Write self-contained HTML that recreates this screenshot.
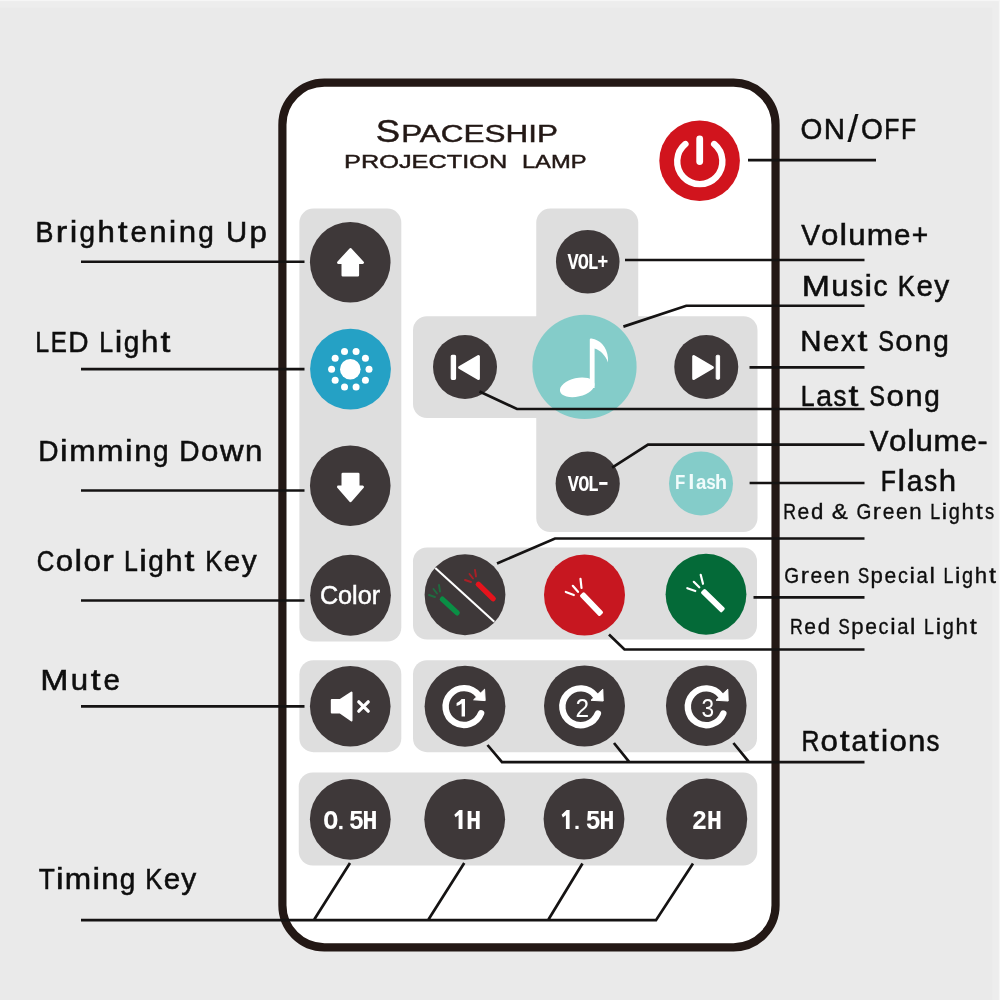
<!DOCTYPE html>
<html>
<head>
<meta charset="utf-8">
<title>Spaceship Projection Lamp Remote</title>
<style>
html,body{margin:0;padding:0;background:#eaeaea;}
body{width:1000px;height:1000px;overflow:hidden;font-family:"Liberation Sans",sans-serif;}
svg{display:block;position:absolute;left:0;top:0;will-change:transform;}
text{font-family:"Liberation Sans",sans-serif;}
.lbl{font-size:30.3px;fill:#0e0e0e;stroke:#0e0e0e;stroke-width:0.55px;}
.sm{font-size:21.6px;fill:#0e0e0e;stroke:#0e0e0e;stroke-width:0.35px;}
.ln{stroke:#151313;stroke-width:2.7;fill:none;stroke-linejoin:miter;}
.pan{fill:#dedede;}
.btn{fill:#3e3839;}
.mono{font-family:"Liberation Mono",monospace;font-weight:bold;fill:#fff;}
.hd{fill:#231815;stroke:#231815;stroke-width:0.45px;}
.sb{font-family:"Liberation Sans",sans-serif;font-weight:bold;}
</style>
</head>
<body>
<svg width="1000" height="1000" viewBox="0 0 1000 1000">
<!-- background -->
<rect x="0" y="0" width="1000" height="1000" fill="#eaeaea"/>
<rect x="992.5" y="0" width="7.5" height="1000" fill="#ededed"/>
<rect x="0" y="0" width="1000" height="7.5" fill="#ededed"/>
<rect x="998.8" y="0" width="1.2" height="1000" fill="#f6f6f6"/>
<rect x="0" y="0" width="1000" height="1.2" fill="#f6f6f6"/>

<!-- remote body -->
<rect x="282.4" y="82.7" width="493.15" height="864.6" rx="42" ry="42" fill="#ffffff" stroke="#231815" stroke-width="8.2"/>

<g class="hd">
<text x="375.7" y="141.6" font-size="31.6" textLength="24.4" lengthAdjust="spacingAndGlyphs" >S</text>
<text x="401.15" y="141.6" font-size="24.2" textLength="156.8" lengthAdjust="spacingAndGlyphs" >PACESHIP</text>
<text x="344.1" y="167.8" font-size="18.8" textLength="163.1" lengthAdjust="spacingAndGlyphs" >PROJECTION</text>
<text x="521.9" y="167.8" font-size="18.8" textLength="64.6" lengthAdjust="spacingAndGlyphs" >LAMP</text>
</g>

<!-- grey panels -->
<g class="pan">
<rect x="299.4" y="208.6" width="101.9" height="433" rx="14"/>
<path d="M550.25 208.6H624.25a14 14 0 0 1 14 14V316.25H743.5a14 14 0 0 1 14 14V518a14 14 0 0 1 -14 14H550.25a14 14 0 0 1 -14 -14V418H427a14 14 0 0 1 -14 -14V330.25a14 14 0 0 1 14 -14H536.25V222.6a14 14 0 0 1 14 -14Z"/>
<rect x="413" y="547.5" width="344" height="92" rx="14"/>
<rect x="299.4" y="660.2" width="101.9" height="92" rx="14"/>
<rect x="413" y="660.2" width="344" height="92" rx="14"/>
<rect x="298.75" y="772.5" width="458.5" height="93" rx="14"/>
</g>

<!-- buttons -->
<g class="btn">
<circle cx="350.25" cy="262.25" r="40.3"/>
<circle cx="350.25" cy="485.75" r="40.3"/>
<circle cx="350.5" cy="595.25" r="40.4"/>
<circle cx="350.25" cy="706.25" r="40.3"/>
<circle cx="587.75" cy="261.75" r="31.8"/>
<circle cx="465" cy="367" r="32"/>
<circle cx="706.25" cy="367" r="32"/>
<circle cx="587.7" cy="483.7" r="32.1"/>
<circle cx="465" cy="594.75" r="40.4"/>
<circle cx="465" cy="706.25" r="40.4"/>
<circle cx="584.5" cy="706" r="40.5"/>
<circle cx="706.25" cy="705.75" r="40.3"/>
<circle cx="350.3" cy="819.3" r="40.4"/>
<circle cx="464.7" cy="819.3" r="40.4"/>
<circle cx="584" cy="819" r="40.4"/>
<circle cx="706.7" cy="819" r="40.5"/>
</g>
<circle cx="350.5" cy="369.1" r="40.4" fill="#25a1c5"/>
<circle cx="699.6" cy="160.75" r="40.3" fill="#d1141d"/>
<circle cx="584.5" cy="366.8" r="52.1" fill="#84ccc9"/>
<circle cx="701" cy="483.4" r="32" fill="#84ccc9"/>
<circle cx="584.5" cy="595" r="40.5" fill="#c71720"/>
<circle cx="706" cy="594.25" r="40.4" fill="#046a38"/>

<!-- icons -->
<path d="M350.5 249.3L362.7 262.6H357.8V275.2H342.8V262.6H338.3Z" fill="#fff" stroke="#fff" stroke-width="2.6" stroke-linejoin="round"/>
<path d="M350.5 500.8L362.7 486.9H358.2V474.1H342.8V486.9H338.3Z" fill="#fff" stroke="#fff" stroke-width="2.6" stroke-linejoin="round"/>
<g fill="#fff"><circle cx="350.3" cy="369.2" r="10.3"/><circle cx="369.00" cy="369.20" r="3.5"/><circle cx="365.43" cy="380.19" r="3.5"/><circle cx="356.08" cy="386.98" r="3.5"/><circle cx="344.52" cy="386.98" r="3.5"/><circle cx="335.17" cy="380.19" r="3.5"/><circle cx="331.60" cy="369.20" r="3.5"/><circle cx="335.17" cy="358.21" r="3.5"/><circle cx="344.52" cy="351.42" r="3.5"/><circle cx="356.08" cy="351.42" r="3.5"/><circle cx="365.43" cy="358.21" r="3.5"/></g>
<path d="M714.18 144.06A22.6 22.6 0 1 1 685.42 144.06" fill="none" stroke="#fff" stroke-width="6.4" stroke-linecap="round"/>
<path d="M699.7 138.8V161.5" fill="none" stroke="#fff" stroke-width="6.8" stroke-linecap="round"/>
<g fill="#fff"><ellipse cx="577.2" cy="387.3" rx="17.6" ry="9.3" transform="rotate(-13 577.2 387.3)"/><path d="M589.8 339.6Q589.8 338.2 591.4 338.5L594.6 339.2C602 341.5 609 350 608 362.5C605.5 355.5 600.5 350.3 594.6 348.6V388H589.8Z"/></g>
<g fill="#fff" stroke="#fff" stroke-linejoin="round"><path d="M459.6 367.5L478.4 356.6V378.4Z" stroke-width="3"/><rect x="451.3" y="355.3" width="4.2" height="24" rx="1" stroke-width="1.2"/></g>
<g fill="#fff" stroke="#fff" stroke-linejoin="round"><path d="M712.4 367.5L693.7 356.6V378.4Z" stroke-width="3"/><rect x="716.2" y="355.3" width="3.4" height="24" rx="1" stroke-width="1"/></g>
<g fill="#fff" stroke="#fff" stroke-linejoin="round"><path d="M331.8 700H340L351.5 692.6V720.4L340 712.5H331.8Z" stroke-width="2"/><path d="M358.8 701.8L368.2 711.2M368.2 701.8L358.8 711.2" stroke-width="3.3" stroke-linecap="round" fill="none"/></g>
<path d="M435.3 568L494.3 621.8" stroke="#fff" stroke-width="2.1" fill="none"/>
<rect x="0" y="-2.7" width="25.81" height="5.4" rx="2.4" fill="#e5131c" transform="translate(476.5 582.5) rotate(44.22)"/><path d="M475 570L476 576.5" stroke="#e5131c" stroke-width="1.9" stroke-linecap="round" fill="none" opacity="0.65"/><path d="M469.5 574L473 578.5" stroke="#e5131c" stroke-width="1.9" stroke-linecap="round" fill="none" opacity="0.65"/><path d="M465 580L471 582" stroke="#e5131c" stroke-width="1.9" stroke-linecap="round" fill="none" opacity="0.65"/>
<rect x="0" y="-2.7" width="25.12" height="5.4" rx="2.4" fill="#0a8f45" transform="translate(440.5 597.5) rotate(42.58)"/><path d="M439 585L440 591.5" stroke="#0a8f45" stroke-width="1.9" stroke-linecap="round" fill="none" opacity="0.6"/><path d="M433.5 589L437 593.5" stroke="#0a8f45" stroke-width="1.9" stroke-linecap="round" fill="none" opacity="0.6"/><path d="M429 595L435 597" stroke="#0a8f45" stroke-width="1.9" stroke-linecap="round" fill="none" opacity="0.6"/>
<rect x="0" y="-3.0" width="28.86" height="6" rx="1.6" fill="#fff" transform="translate(581.5 593.7) rotate(46.12)"/><path d="M565.8 592L573.8 595" stroke="#fff" stroke-width="2.2" stroke-linecap="round" fill="none" opacity="1"/><path d="M572.8 585.8L578 591.8" stroke="#fff" stroke-width="2.2" stroke-linecap="round" fill="none" opacity="1"/><path d="M580.5 578.8L581.5 588" stroke="#fff" stroke-width="2.2" stroke-linecap="round" fill="none" opacity="1"/>
<rect x="0" y="-3.0" width="29.06" height="6" rx="1.6" fill="#fff" transform="translate(702.5 590.5) rotate(44.30)"/><path d="M687.3 588.2L695.3 591" stroke="#fff" stroke-width="2.2" stroke-linecap="round" fill="none" opacity="1"/><path d="M693.8 581.8L699.3 587.3" stroke="#fff" stroke-width="2.2" stroke-linecap="round" fill="none" opacity="1"/><path d="M700.7 574.8L703 583.8" stroke="#fff" stroke-width="2.2" stroke-linecap="round" fill="none" opacity="1"/>
<path d="M481.11 713.26A18.4 18.4 0 1 1 478.41 695.05" fill="none" stroke="#fff" stroke-width="6.4" stroke-linecap="round"/><path d="M484.6 689.2L485.2 700.6L473.6 699.8Z" fill="#fff" stroke="#fff" stroke-width="1" stroke-linejoin="round"/><path d="M461.6 699H465V716.6H461.6V703.4Q459.6 705 456.6 705.9V703Q460 701.6 461.6 699Z" fill="#fff"/>
<path d="M597.88 713.47A18.4 18.4 0 1 1 595.52 695.78" fill="none" stroke="#fff" stroke-width="6.4" stroke-linecap="round"/><path d="M602.8 689.2L603.2 701L591 700.3Z" fill="#fff" stroke="#fff" stroke-width="1" stroke-linejoin="round"/><text x="582.2" y="716.9" font-size="25" fill="#fff" text-anchor="middle" textLength="13.6" lengthAdjust="spacingAndGlyphs">2</text>
<path d="M723.33 713.46A18.4 18.4 0 1 1 720.82 695.58" fill="none" stroke="#fff" stroke-width="6.4" stroke-linecap="round"/><path d="M727.8 689.2L728.2 701L716 700.3Z" fill="#fff" stroke="#fff" stroke-width="1" stroke-linejoin="round"/><text x="707.8" y="716.9" font-size="25" fill="#fff" text-anchor="middle" textLength="12.6" lengthAdjust="spacingAndGlyphs">3</text>
<text x="350" y="604" font-size="26" fill="#fff" stroke="#fff" stroke-width="0.5" text-anchor="middle" textLength="60.2" lengthAdjust="spacingAndGlyphs">Color</text>
<text class="mono" transform="translate(573,269.1) scale(0.82,1)" text-anchor="middle" font-size="22.6" fill="#fff">V</text>
<text class="mono" transform="translate(583.4,269.1) scale(0.82,1)" text-anchor="middle" font-size="22.6" fill="#fff">O</text>
<text class="mono" transform="translate(593,269.1) scale(0.82,1)" text-anchor="middle" font-size="22.6" fill="#fff">L</text>
<text class="mono" transform="translate(602.9,269.1) scale(0.82,1)" text-anchor="middle" font-size="22.6" fill="#fff">+</text>
<text class="mono" transform="translate(573.4,490.7) scale(0.82,1)" text-anchor="middle" font-size="22.6" fill="#fff">V</text>
<text class="mono" transform="translate(583.8,490.7) scale(0.82,1)" text-anchor="middle" font-size="22.6" fill="#fff">O</text>
<text class="mono" transform="translate(593.4,490.7) scale(0.82,1)" text-anchor="middle" font-size="22.6" fill="#fff">L</text>
<rect x="599.2" y="482" width="8.3" height="2.9" fill="#fff"/>
<text class="sb" transform="translate(680.1,488.7) scale(0.84,1)" text-anchor="middle" font-size="20.1" fill="#f0fbfb">F</text>
<text class="sb" transform="translate(691.25,488.7) scale(1.1,1)" text-anchor="middle" font-size="20.1" fill="#f0fbfb">l</text>
<text class="sb" transform="translate(701.1,488.7) scale(0.93,1)" text-anchor="middle" font-size="20.1" fill="#f0fbfb">a</text>
<text class="sb" transform="translate(711.05,488.7) scale(0.85,1)" text-anchor="middle" font-size="20.1" fill="#f0fbfb">s</text>
<text class="sb" transform="translate(721,488.7) scale(0.98,1)" text-anchor="middle" font-size="20.1" fill="#f0fbfb">h</text>
<text class="mono" transform="translate(330.7,829.2) scale(0.88,1)" text-anchor="middle" font-size="28.4" fill="#fff">O</text>
<rect x="339.2" y="825.90" width="3.30" height="3.30" fill="#fff"/>
<text class="mono" transform="translate(356.3,829.2) scale(0.9,1)" text-anchor="middle" font-size="28.4" fill="#fff">5</text>
<text class="mono" transform="translate(370,829.2) scale(0.9,1)" text-anchor="middle" font-size="28.4" fill="#fff">H</text>
<path d="M459.30 810H462.5V828.9H458.6V815.10L455.60 817.30L454.30 814.70Z" fill="#fff"/>
<text class="mono" transform="translate(473.75,829) scale(0.9,1)" text-anchor="middle" font-size="28.4" fill="#fff">H</text>
<path d="M566.60 810.1H569.6V829H565.9V815.20L562.90 817.40L561.60 814.80Z" fill="#fff"/>
<rect x="575.4" y="825.80" width="3.20" height="3.20" fill="#fff"/>
<text class="mono" transform="translate(593.25,829) scale(0.9,1)" text-anchor="middle" font-size="28.4" fill="#fff">5</text>
<text class="mono" transform="translate(606.8,829) scale(0.9,1)" text-anchor="middle" font-size="28.4" fill="#fff">H</text>
<text class="mono" transform="translate(699.5,829) scale(0.9,1)" text-anchor="middle" font-size="28.4" fill="#fff">2</text>
<text class="mono" transform="translate(714.4,829) scale(0.9,1)" text-anchor="middle" font-size="28.4" fill="#fff">H</text>

<!-- leader lines -->
<g class="ln">
<path d="M81 261.75H304.5"/>
<path d="M81 369.2H304.5"/>
<path d="M81 490.5H304.5"/>
<path d="M81 600.5H304.5"/>
<path d="M81 706.3H304.5"/>
<path d="M81 920.2H656L693 863.5M313.75 920.2L350 863M428 920.2L464.25 863M548 920.2L582.5 863.5"/>
<path d="M748 160.2H876"/>
<path d="M625 260H864.5"/>
<path d="M623.4 326.6L686.25 305.75H864.5"/>
<path d="M749.5 367.3H864.5"/>
<path d="M479.5 391.5L517 409H864.5"/>
<path d="M612.1 467.6L648 444.7H864.5"/>
<path d="M749.6 483H864.5"/>
<path d="M497 563.5L555 538.5H864.5"/>
<path d="M753.5 597.3H864.5"/>
<path d="M609 634.5L624.5 649.5H864.5"/>
<path d="M487.5 745L502 762.2H864.5M614 743L629.4 762.2M733.4 743L749 762.2"/>
</g>

<!-- labels -->
<g class="lbl" text-anchor="middle">
<text transform="translate(44.58,242) scale(0.888,1)">B</text>
<text transform="translate(61.62,242) scale(1.140,1)">r</text>
<text transform="translate(73.47,242) scale(1.125,1)">i</text>
<text transform="translate(87.34,242) scale(0.922,1)">g</text>
<text transform="translate(106.09,242) scale(1.029,1)">h</text>
<text transform="translate(122.60,242) scale(1.170,1)">t</text>
<text transform="translate(138.65,242) scale(0.975,1)">e</text>
<text transform="translate(157.84,242) scale(1.029,1)">n</text>
<text transform="translate(172.61,242) scale(1.125,1)">i</text>
<text transform="translate(187.38,242) scale(1.029,1)">n</text>
<text transform="translate(206.13,242) scale(0.922,1)">g</text>
<text transform="translate(236.57,242) scale(0.968,1)">U</text>
<text transform="translate(258.14,242) scale(1.029,1)">p</text>
</g>
<g class="lbl" text-anchor="middle">
<text transform="translate(42.14,352) scale(0.823,1)">L</text>
<text transform="translate(58.71,352) scale(0.797,1)">E</text>
<text transform="translate(78.49,352) scale(0.928,1)">D</text>
<text transform="translate(106.19,352) scale(0.823,1)">L</text>
<text transform="translate(118.49,352) scale(1.125,1)">i</text>
<text transform="translate(131.61,352) scale(0.922,1)">g</text>
<text transform="translate(149.62,352) scale(1.029,1)">h</text>
<text transform="translate(165.39,352) scale(1.170,1)">t</text>
</g>
<g class="lbl" text-anchor="middle">
<text transform="translate(48.35,461.25) scale(0.928,1)">D</text>
<text transform="translate(63.85,461.25) scale(1.125,1)">i</text>
<text transform="translate(82.37,461.25) scale(1.045,1)">m</text>
<text transform="translate(110.29,461.25) scale(1.045,1)">m</text>
<text transform="translate(128.81,461.25) scale(1.125,1)">i</text>
<text transform="translate(142.82,461.25) scale(1.029,1)">n</text>
<text transform="translate(160.81,461.25) scale(0.922,1)">g</text>
<text transform="translate(189.30,461.25) scale(0.928,1)">D</text>
<text transform="translate(209.71,461.25) scale(1.033,1)">o</text>
<text transform="translate(231.76,461.25) scale(1.078,1)">w</text>
<text transform="translate(253.78,461.25) scale(1.029,1)">n</text>
</g>
<g class="lbl" text-anchor="middle">
<text transform="translate(45.50,571.25) scale(0.804,1)">C</text>
<text transform="translate(64.40,571.25) scale(1.033,1)">o</text>
<text transform="translate(78.28,571.25) scale(1.125,1)">l</text>
<text transform="translate(92.17,571.25) scale(1.033,1)">o</text>
<text transform="translate(108.03,571.25) scale(1.140,1)">r</text>
<text transform="translate(130.98,571.25) scale(0.823,1)">L</text>
<text transform="translate(143.10,571.25) scale(1.125,1)">i</text>
<text transform="translate(156.05,571.25) scale(0.922,1)">g</text>
<text transform="translate(173.89,571.25) scale(1.029,1)">h</text>
<text transform="translate(189.48,571.25) scale(1.170,1)">t</text>
<text transform="translate(213.84,571.25) scale(0.848,1)">K</text>
<text transform="translate(232.03,571.25) scale(0.975,1)">e</text>
<text transform="translate(249.10,571.25) scale(0.986,1)">y</text>
</g>
<g class="lbl" text-anchor="middle">
<text transform="translate(54.41,690) scale(1.118,1)">M</text>
<text transform="translate(79.35,690) scale(1.029,1)">u</text>
<text transform="translate(95.71,690) scale(1.170,1)">t</text>
<text transform="translate(111.62,690) scale(0.975,1)">e</text>
</g>
<g class="lbl" text-anchor="middle">
<text transform="translate(46.74,888.75) scale(0.869,1)">T</text>
<text transform="translate(59.80,888.75) scale(1.125,1)">i</text>
<text transform="translate(78.00,888.75) scale(1.045,1)">m</text>
<text transform="translate(96.21,888.75) scale(1.125,1)">i</text>
<text transform="translate(109.90,888.75) scale(1.029,1)">n</text>
<text transform="translate(127.57,888.75) scale(0.922,1)">g</text>
<text transform="translate(153.84,888.75) scale(0.848,1)">K</text>
<text transform="translate(171.85,888.75) scale(0.975,1)">e</text>
<text transform="translate(188.77,888.75) scale(0.986,1)">y</text>
</g>
<g class="lbl" text-anchor="middle">
<text transform="translate(811.42,138.6) scale(0.927,1)">O</text>
<text transform="translate(834.50,138.6) scale(0.974,1)">N</text>
<text style="stroke-width:0.15px" transform="translate(853.02,142.40) scale(1.287,1.27)">/</text>
<text transform="translate(871.82,138.6) scale(0.927,1)">O</text>
<text transform="translate(891.83,138.6) scale(0.819,1)">F</text>
<text transform="translate(908.49,138.6) scale(0.819,1)">F</text>
</g>
<g class="lbl" text-anchor="middle">
<text transform="translate(810.56,245) scale(0.927,1)">V</text>
<text transform="translate(829.72,245) scale(1.033,1)">o</text>
<text transform="translate(843.31,245) scale(1.125,1)">l</text>
<text transform="translate(856.87,245) scale(1.029,1)">u</text>
<text transform="translate(879.82,245) scale(1.045,1)">m</text>
<text transform="translate(902.31,245) scale(0.975,1)">e</text>
<text transform="translate(919.84,245) scale(0.929,1)">+</text>
</g>
<g class="lbl" text-anchor="middle">
<text transform="translate(815.81,296.25) scale(1.118,1)">M</text>
<text transform="translate(840.03,296.25) scale(1.029,1)">u</text>
<text transform="translate(856.61,296.25) scale(0.852,1)">s</text>
<text transform="translate(868.30,296.25) scale(1.125,1)">i</text>
<text transform="translate(880.51,296.25) scale(0.921,1)">c</text>
<text transform="translate(906.42,296.25) scale(0.848,1)">K</text>
<text transform="translate(924.65,296.25) scale(0.975,1)">e</text>
<text transform="translate(941.78,296.25) scale(0.986,1)">y</text>
</g>
<g class="lbl" text-anchor="middle">
<text transform="translate(810.85,351.25) scale(0.974,1)">N</text>
<text transform="translate(831.28,351.25) scale(0.975,1)">e</text>
<text transform="translate(848.21,351.25) scale(0.944,1)">x</text>
<text transform="translate(862.46,351.25) scale(1.170,1)">t</text>
<text transform="translate(886.17,351.25) scale(0.780,1)">S</text>
<text transform="translate(904.02,351.25) scale(1.033,1)">o</text>
<text transform="translate(922.97,351.25) scale(1.029,1)">n</text>
<text transform="translate(940.97,351.25) scale(0.922,1)">g</text>
</g>
<g class="lbl" text-anchor="middle">
<text transform="translate(807.64,406.25) scale(0.823,1)">L</text>
<text transform="translate(824.05,406.25) scale(0.938,1)">a</text>
<text transform="translate(839.98,406.25) scale(0.852,1)">s</text>
<text transform="translate(853.53,406.25) scale(1.170,1)">t</text>
<text transform="translate(877.24,406.25) scale(0.780,1)">S</text>
<text transform="translate(895.10,406.25) scale(1.033,1)">o</text>
<text transform="translate(914.04,406.25) scale(1.029,1)">n</text>
<text transform="translate(932.05,406.25) scale(0.922,1)">g</text>
</g>
<g class="lbl" text-anchor="middle">
<text transform="translate(879.06,451.25) scale(0.927,1)">V</text>
<text transform="translate(897.81,451.25) scale(1.033,1)">o</text>
<text transform="translate(910.98,451.25) scale(1.125,1)">l</text>
<text transform="translate(924.12,451.25) scale(1.029,1)">u</text>
<text transform="translate(946.65,451.25) scale(1.045,1)">m</text>
<text transform="translate(968.72,451.25) scale(0.975,1)">e</text>
<text transform="translate(982.67,451.25) scale(1.001,1)">-</text>
</g>
<g class="lbl" text-anchor="middle">
<text transform="translate(888.28,491.25) scale(0.819,1)">F</text>
<text transform="translate(901.30,491.25) scale(1.125,1)">l</text>
<text transform="translate(914.64,491.25) scale(0.938,1)">a</text>
<text transform="translate(930.65,491.25) scale(0.852,1)">s</text>
<text transform="translate(947.42,491.25) scale(1.029,1)">h</text>
</g>
<g class="lbl" text-anchor="middle">
<text transform="translate(810.41,751.25) scale(0.819,1)">R</text>
<text transform="translate(829.27,751.25) scale(1.033,1)">o</text>
<text transform="translate(844.70,751.25) scale(1.170,1)">t</text>
<text transform="translate(859.33,751.25) scale(0.938,1)">a</text>
<text transform="translate(873.96,751.25) scale(1.170,1)">t</text>
<text transform="translate(884.47,751.25) scale(1.125,1)">i</text>
<text transform="translate(898.16,751.25) scale(1.033,1)">o</text>
<text transform="translate(916.73,751.25) scale(1.029,1)">n</text>
<text transform="translate(933.05,751.25) scale(0.852,1)">s</text>
</g>
<g class="sm" text-anchor="middle">
<text transform="translate(789.58,519.4) scale(0.819,1)">R</text>
<text transform="translate(803.43,519.4) scale(0.975,1)">e</text>
<text transform="translate(817.08,519.4) scale(1.029,1)">d</text>
<text transform="translate(839.83,519.4) scale(1.114,1)">&amp;</text>
<text transform="translate(863.82,519.4) scale(0.883,1)">G</text>
<text transform="translate(876.95,519.4) scale(1.140,1)">r</text>
<text transform="translate(888.52,519.4) scale(0.975,1)">e</text>
<text transform="translate(901.84,519.4) scale(0.975,1)">e</text>
<text transform="translate(915.48,519.4) scale(1.029,1)">n</text>
<text transform="translate(935.16,519.4) scale(0.823,1)">L</text>
<text transform="translate(944.42,519.4) scale(1.125,1)">i</text>
<text transform="translate(954.27,519.4) scale(0.922,1)">g</text>
<text transform="translate(967.60,519.4) scale(1.029,1)">h</text>
<text transform="translate(979.33,519.4) scale(1.170,1)">t</text>
<text transform="translate(989.49,519.4) scale(0.852,1)">s</text>
</g>
<g class="sm" text-anchor="middle">
<text transform="translate(791.61,582.5) scale(0.883,1)">G</text>
<text transform="translate(804.77,582.5) scale(1.140,1)">r</text>
<text transform="translate(816.35,582.5) scale(0.975,1)">e</text>
<text transform="translate(829.69,582.5) scale(0.975,1)">e</text>
<text transform="translate(843.36,582.5) scale(1.029,1)">n</text>
<text transform="translate(863.53,582.5) scale(0.780,1)">S</text>
<text transform="translate(876.75,582.5) scale(1.029,1)">p</text>
<text transform="translate(890.41,582.5) scale(0.975,1)">e</text>
<text transform="translate(902.87,582.5) scale(0.921,1)">c</text>
<text transform="translate(912.18,582.5) scale(1.125,1)">i</text>
<text transform="translate(922.15,582.5) scale(0.938,1)">a</text>
<text transform="translate(932.12,582.5) scale(1.125,1)">l</text>
<text transform="translate(948.36,582.5) scale(0.823,1)">L</text>
<text transform="translate(957.64,582.5) scale(1.125,1)">i</text>
<text transform="translate(967.52,582.5) scale(0.922,1)">g</text>
<text transform="translate(980.86,582.5) scale(1.029,1)">h</text>
<text transform="translate(992.62,582.5) scale(1.170,1)">t</text>
</g>
<g class="sm" text-anchor="middle">
<text transform="translate(796.33,633.75) scale(0.819,1)">R</text>
<text transform="translate(810.22,633.75) scale(0.975,1)">e</text>
<text transform="translate(823.90,633.75) scale(1.029,1)">d</text>
<text transform="translate(844.10,633.75) scale(0.780,1)">S</text>
<text transform="translate(857.34,633.75) scale(1.029,1)">p</text>
<text transform="translate(871.02,633.75) scale(0.975,1)">e</text>
<text transform="translate(883.49,633.75) scale(0.921,1)">c</text>
<text transform="translate(892.82,633.75) scale(1.125,1)">i</text>
<text transform="translate(902.81,633.75) scale(0.938,1)">a</text>
<text transform="translate(912.79,633.75) scale(1.125,1)">l</text>
<text transform="translate(929.06,633.75) scale(0.823,1)">L</text>
<text transform="translate(938.36,633.75) scale(1.125,1)">i</text>
<text transform="translate(948.25,633.75) scale(0.922,1)">g</text>
<text transform="translate(961.61,633.75) scale(1.029,1)">h</text>
<text transform="translate(973.38,633.75) scale(1.170,1)">t</text>
</g>
</svg>
</body>
</html>
